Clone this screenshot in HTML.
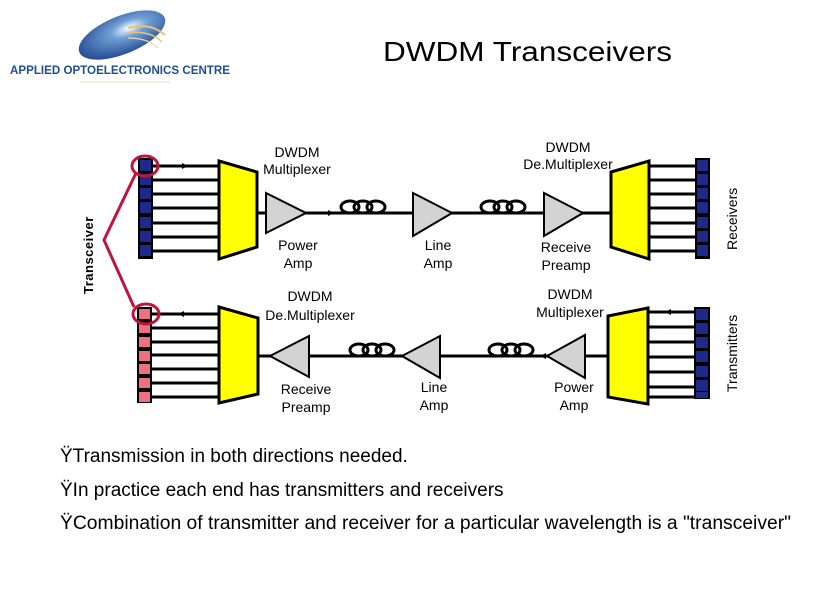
<!DOCTYPE html>
<html><head><meta charset="utf-8"><style>
body{margin:0;background:#fff;}
svg{display:block;}
text{font-family:"Liberation Sans",Arial,sans-serif;}
</style></head><body>
<svg width="839" height="592" viewBox="0 0 839 592" xmlns="http://www.w3.org/2000/svg">
<defs>
<radialGradient id="lg" cx="0.6" cy="0.4" r="0.7"><stop offset="0" stop-color="#ffffff"/><stop offset="0.3" stop-color="#6f9fd6"/><stop offset="1" stop-color="#1a3f8a"/></radialGradient>
<g id="coil"><ellipse cx="9" cy="0" rx="9" ry="6" fill="none" stroke="#000" stroke-width="3"/><ellipse cx="22" cy="0" rx="9" ry="6" fill="none" stroke="#000" stroke-width="3"/><ellipse cx="35" cy="0" rx="9" ry="6" fill="none" stroke="#000" stroke-width="3"/></g>
</defs>
<!-- logo -->
<g transform="rotate(-22 122 35)"><ellipse cx="122" cy="35" rx="46" ry="19" fill="url(#lg)"/></g>
<path d="M128 28 Q150 22 165 35" stroke="#e8c27a" stroke-width="2" fill="none"/>
<path d="M128 33 Q150 30 162 42" stroke="#e8c27a" stroke-width="1.5" fill="none"/>
<path d="M128 38 Q148 38 158 48" stroke="#f0d6a6" stroke-width="1.2" fill="none"/>
<text x="10" y="74" font-family="Liberation Serif,serif" font-size="12" fill="#1d4f8c" font-weight="bold" textLength="220" lengthAdjust="spacingAndGlyphs">APPLIED OPTOELECTRONICS CENTRE</text>
<line x1="80" y1="82" x2="170" y2="82" stroke="#f0dcb0" stroke-width="1"/>
<text x="383" y="61" font-size="28" textLength="289" lengthAdjust="spacingAndGlyphs">DWDM Transceivers</text>

<!-- top row -->
<g stroke="#000" stroke-width="3">
<line x1="152" y1="166" x2="220" y2="166"/><line x1="152" y1="180" x2="220" y2="180"/><line x1="152" y1="194" x2="220" y2="194"/><line x1="152" y1="208" x2="220" y2="208"/><line x1="152" y1="223" x2="220" y2="223"/><line x1="152" y1="237" x2="220" y2="237"/><line x1="152" y1="251" x2="220" y2="251"/>
<line x1="256" y1="213" x2="612" y2="213"/>
<line x1="648" y1="166" x2="697" y2="166"/><line x1="648" y1="180" x2="697" y2="180"/><line x1="648" y1="194" x2="697" y2="194"/><line x1="648" y1="208" x2="697" y2="208"/><line x1="648" y1="223" x2="697" y2="223"/><line x1="648" y1="237" x2="697" y2="237"/><line x1="648" y1="251" x2="697" y2="251"/>
</g>
<path d="M182 163 l6 3 l-6 3z M328 210 l6 3 l-6 3z"/>
<rect x="138" y="158" width="15" height="101" fill="#000"/>
<g fill="#1e2a8a"><rect x="140" y="160" width="11" height="11"/><rect x="140" y="174" width="11" height="11"/><rect x="140" y="188" width="11" height="11"/><rect x="140" y="202" width="11" height="11"/><rect x="140" y="217" width="11" height="11"/><rect x="140" y="231" width="11" height="11"/><rect x="140" y="245" width="11" height="11"/></g>
<rect x="695" y="158" width="15" height="101" fill="#000"/>
<g fill="#1e2a8a"><rect x="697" y="160" width="11" height="11"/><rect x="697" y="174" width="11" height="11"/><rect x="697" y="188" width="11" height="11"/><rect x="697" y="202" width="11" height="11"/><rect x="697" y="217" width="11" height="11"/><rect x="697" y="231" width="11" height="11"/><rect x="697" y="245" width="11" height="11"/></g>
<polygon points="219,161 257,172 257,247 219,259" fill="#ffff00" stroke="#000" stroke-width="3"/>
<polygon points="611,172 649,161 649,259 611,247" fill="#ffff00" stroke="#000" stroke-width="3"/>
<g fill="#d3d3d3" stroke="#000" stroke-width="2">
<polygon points="266,193 266,233 306,213"/><polygon points="413,193 413,236 452,213"/><polygon points="544,193 544,236 583,213"/>
</g>
<use href="#coil" x="341" y="207"/><use href="#coil" x="481" y="207"/>

<!-- bottom row -->
<g stroke="#000" stroke-width="3">
<line x1="152" y1="314" x2="220" y2="314"/><line x1="152" y1="328" x2="220" y2="328"/><line x1="152" y1="342" x2="220" y2="342"/><line x1="152" y1="355" x2="220" y2="355"/><line x1="152" y1="369" x2="220" y2="369"/><line x1="152" y1="383" x2="220" y2="383"/><line x1="152" y1="397" x2="220" y2="397"/>
<line x1="256" y1="356" x2="612" y2="356"/>
<line x1="646" y1="312" x2="697" y2="312"/><line x1="646" y1="327" x2="697" y2="327"/><line x1="646" y1="342" x2="697" y2="342"/><line x1="646" y1="357" x2="697" y2="357"/><line x1="646" y1="372" x2="697" y2="372"/><line x1="646" y1="387" x2="697" y2="387"/><line x1="646" y1="397" x2="697" y2="397"/>
</g>
<path d="M178 314 l6 -3 l0 6z M665 312 l6 -3 l0 6z M540 356 l6 -3 l0 6z"/>
<rect x="137" y="307" width="15" height="96" fill="#000"/>
<g fill="#f07080"><rect x="139" y="309" width="11" height="10"/><rect x="139" y="323" width="11" height="10"/><rect x="139" y="337" width="11" height="10"/><rect x="139" y="351" width="11" height="10"/><rect x="139" y="364" width="11" height="10"/><rect x="139" y="378" width="11" height="10"/><rect x="139" y="392" width="11" height="10"/></g>
<rect x="694" y="307" width="16" height="92" fill="#000"/>
<g fill="#1e2a8a"><rect x="696" y="309" width="12" height="11"/><rect x="696" y="323" width="12" height="11"/><rect x="696" y="337" width="12" height="11"/><rect x="696" y="351" width="12" height="11"/><rect x="696" y="366" width="12" height="11"/><rect x="696" y="380" width="12" height="11"/><rect x="696" y="392" width="12" height="6"/></g>
<polygon points="219,307 258,318 258,394 219,403" fill="#ffff00" stroke="#000" stroke-width="3"/>
<polygon points="608,316 648,308 648,404 608,397" fill="#ffff00" stroke="#000" stroke-width="3"/>
<g fill="#d3d3d3" stroke="#000" stroke-width="2">
<polygon points="309,336 309,377 270,356"/><polygon points="440,336 440,378 402,356"/><polygon points="585,335 585,378 547,356"/>
</g>
<use href="#coil" x="350" y="350"/><use href="#coil" x="489" y="350"/>

<!-- red -->
<g stroke="#c0143c" stroke-width="3" fill="none">
<ellipse cx="145" cy="166" rx="13" ry="10"/><ellipse cx="146" cy="314" rx="13" ry="10"/>
<polyline points="136,173 104,240 134,307"/>
</g>

<g font-size="14" fill="#000" text-anchor="middle">
<text x="297" y="157">DWDM</text><text x="297" y="174">Multiplexer</text>
<text x="568" y="152">DWDM</text><text x="568" y="169">De.Multiplexer</text>
<text x="298" y="250">Power</text><text x="298" y="268">Amp</text>
<text x="438" y="250">Line</text><text x="438" y="268">Amp</text>
<text x="566" y="252">Receive</text><text x="566" y="270">Preamp</text>
<text x="310" y="301">DWDM</text><text x="310" y="320">De.Multiplexer</text>
<text x="570" y="299">DWDM</text><text x="570" y="317">Multiplexer</text>
<text x="306" y="394">Receive</text><text x="306" y="412">Preamp</text>
<text x="434" y="392">Line</text><text x="434" y="410">Amp</text>
<text x="574" y="392">Power</text><text x="574" y="410">Amp</text>
</g>
<text transform="translate(737 250) rotate(-90)" font-size="14">Receivers</text>
<text transform="translate(737 392) rotate(-90)" font-size="14">Transmitters</text>
<text transform="translate(93 294) rotate(-90)" font-size="13" font-weight="bold" letter-spacing="0.5">Transceiver</text>

<g font-size="19" fill="#000">
<text x="60" y="462">ŸTransmission in both directions needed.</text>
<text x="60" y="496">ŸIn practice each end has transmitters and receivers</text>
<text x="60" y="529" textLength="731" lengthAdjust="spacingAndGlyphs">ŸCombination of transmitter and receiver for a particular wavelength is a "transceiver"</text>
</g>
</svg>
</body></html>
